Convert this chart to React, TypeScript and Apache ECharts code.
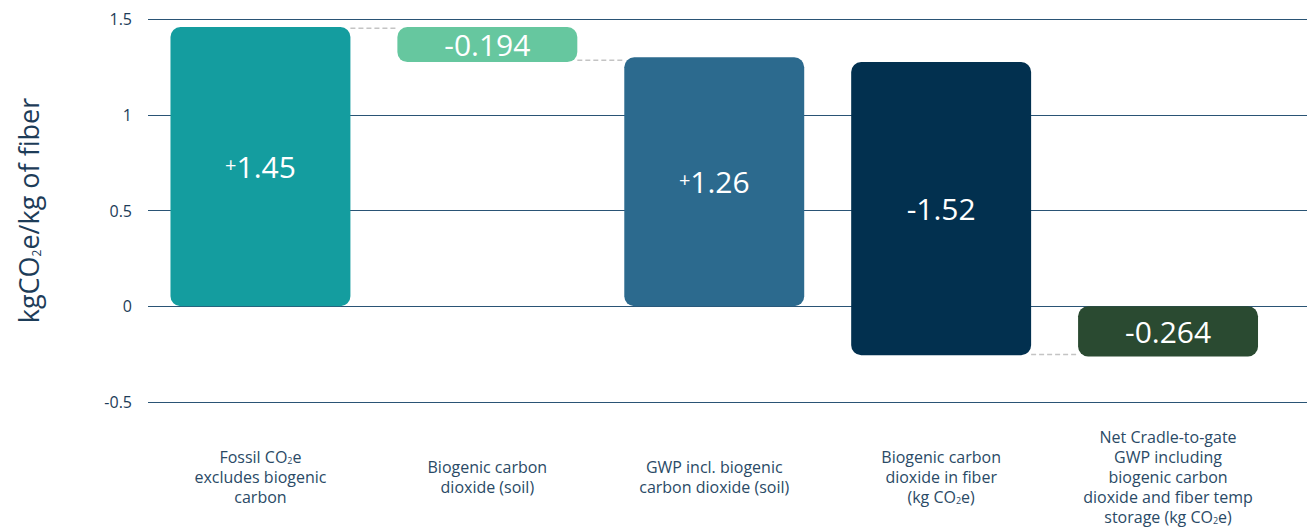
import React, { useEffect, useRef } from 'react';
import * as echarts from 'echarts';

const categories = [
  'Fossil CO₂e\nexcludes biogenic\ncarbon',
  'Biogenic carbon\ndioxide (soil)',
  'GWP incl. biogenic\ncarbon dioxide (soil)',
  'Biogenic carbon\ndioxide in fiber\n(kg CO₂e)',
  'Net Cradle-to-gate\nGWP including\nbiogenic carbon\ndioxide and fiber temp\nstorage (kg CO₂e)',
];
const barLow = [0, 1.275, 0, -0.256, -0.262];
const barHigh = [1.458, 1.458, 1.3, 1.275, 0];
const barLabels = ['+1.45', '-0.194', '+1.26', '-1.52', '-0.264'];
const barColors = ['#149d9f', '#66c79f', '#2c6a8e', '#02304f', '#2a4a31'];
const connectorFrom = [0, 1, 3];
const connectorValue = [1.452, 1.285, -0.252];
const yTicks = [-0.5, 0, 0.5, 1, 1.5];

const FONT = '"Open Sans", Lato, sans-serif';
const TEXT_COLOR = '#1d3c58';

function richLine(s: string, base: string, sub: string) {
  return s
    .split('\n')
    .map((line) =>
      line
        .split('₂')
        .map((p) => (p ? `{${base}|${p}}` : ''))
        .join(`{${sub}|2}`)
    )
    .join('\n');
}

export default function App() {
  const ref = useRef<HTMLDivElement>(null);
  useEffect(() => {
    if (!ref.current) return;
    const chart = echarts.init(ref.current, undefined, { renderer: 'svg' });
    const barRatio = 0.793;
    chart.setOption({
      animation: false,
      grid: [
        { left: 148, right: 0, top: 19, bottom: 125 },
        { left: 147, right: 25.5, top: 19, bottom: 125 },
      ],
      xAxis: [
        { type: 'value', gridIndex: 0, show: false, min: 0, max: 1 },
        {
          type: 'category',
          gridIndex: 1,
          data: categories,
          axisLine: { show: false },
          axisTick: { show: false },
          axisLabel: {
            interval: 0,
            margin: 73,
            verticalAlign: 'middle',
            align: 'center',
            formatter: (v: string) => richLine(v, 't', 's'),
            rich: {
              t: { fontSize: 16, lineHeight: 20, verticalAlign: 'bottom', color: '#2a4a66', fontFamily: FONT },
              s: { fontSize: 9, lineHeight: 8, verticalAlign: 'bottom', color: '#2a4a66', fontFamily: FONT },
            },
          },
        },
      ],
      yAxis: [
        {
          type: 'value',
          gridIndex: 0,
          min: -0.5,
          max: 1.5,
          interval: 0.5,
          axisLine: { show: false },
          axisTick: { show: false },
          splitLine: { show: true, lineStyle: { color: '#2a5475', width: 1 } },
          axisLabel: {
            margin: 16,
            fontSize: 16,
            color: TEXT_COLOR,
            fontFamily: FONT,
            formatter: (v: number) => (yTicks.includes(v) ? String(v) : ''),
          },
          name: richLine('kgCO₂e/kg of fiber', 'n', 'ns'),
          nameLocation: 'middle',
          nameGap: 106,
          nameRotate: 90,
          nameTextStyle: {
            rich: {
              n: { fontSize: 27, lineHeight: 32, verticalAlign: 'bottom', color: '#1d3c58', fontFamily: FONT },
              ns: { fontSize: 12, lineHeight: 11, verticalAlign: 'bottom', color: '#1d3c58', fontFamily: FONT },
            },
          },
        },
        {
          type: 'value',
          gridIndex: 1,
          min: -0.5,
          max: 1.5,
          interval: 0.5,
          show: false,
          splitLine: { show: false },
        },
      ],
      series: [
        {
          type: 'custom',
          xAxisIndex: 1,
          yAxisIndex: 1,
          z: 1,
          data: connectorFrom.map((f, k) => [f, connectorValue[k]]),
          encode: { x: 0, y: 1 },
          renderItem: (params: any, api: any) => {
            const i = api.value(0);
            const v = api.value(1);
            const p = api.coord([i, v]);
            const band = api.size([1, 0])[0];
            const bw = band * barRatio;
            return {
              type: 'line',
              shape: { x1: p[0] + bw / 2, y1: p[1], x2: p[0] + band - bw / 2, y2: p[1] },
              style: { stroke: '#c4c4c4', lineWidth: 1.5, lineDash: [5, 3] },
            };
          },
        },
        {
          type: 'custom',
          xAxisIndex: 1,
          yAxisIndex: 1,
          z: 2,
          data: categories.map((_, i) => [i, barLow[i], barHigh[i]]),
          encode: { x: 0, y: [1, 2] },
          renderItem: (params: any, api: any) => {
            const i = api.value(0);
            const lo = api.coord([i, api.value(1)]);
            const hi = api.coord([i, api.value(2)]);
            const band = api.size([1, 0])[0];
            const bw = band * barRatio;
            const lbl = barLabels[i];
            const text = lbl.startsWith('+') ? `{p|+}{v|${lbl.slice(1)}}` : `{v|${lbl}}`;
            return {
              type: 'group',
              children: [
                {
                  type: 'rect',
                  shape: { x: lo[0] - bw / 2, y: hi[1], width: bw, height: lo[1] - hi[1], r: 10 },
                  style: { fill: barColors[i] },
                },
                {
                  type: 'text',
                  x: lo[0],
                  y: (lo[1] + hi[1]) / 2,
                  style: {
                    text,
                    align: 'center',
                    verticalAlign: 'middle',
                    fill: '#ffffff',
                    rich: {
                      v: { fontSize: 30, lineHeight: 34, verticalAlign: 'middle', fill: '#ffffff', fontFamily: FONT },
                      p: {
                        fontSize: 20,
                        lineHeight: 22,
                        verticalAlign: 'middle',
                        padding: [0, 0, 5, 0],
                        fill: '#ffffff',
                        fontFamily: FONT,
                      },
                    },
                  },
                },
              ],
            };
          },
        },
      ],
    });
    return () => chart.dispose();
  }, []);
  return (
    <div
      ref={ref}
      style={{ position: 'fixed', left: 0, top: 0, width: 1307, height: 527, background: '#fff' }}
    />
  );
}
